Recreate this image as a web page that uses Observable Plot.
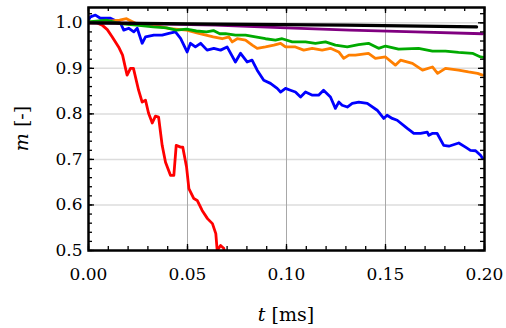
<!DOCTYPE html>
<html><head><meta charset="utf-8">
<script src="https://cdn.jsdelivr.net/npm/d3@7"></script>
<script src="https://cdn.jsdelivr.net/npm/@observablehq/plot@0.6"></script>
<style>body{margin:0;background:#fff}</style>
</head><body><div id="chart"></div>
<script>
// tick values and labels
const xTicks = [0, 0.05, 0.10, 0.15, 0.20];
const xTickLabels = ["0.00", "0.05", "0.10", "0.15", "0.20"];
const yTicks = [0.5, 0.6, 0.7, 0.8, 0.9, 1.0];
const yTickLabels = ["0.5", "0.6", "0.7", "0.8", "0.9", "1.0"];
const xGrid = [0.05, 0.10, 0.15];
const yGrid = [0.6, 0.7, 0.8, 0.9, 1.0];
const xMinor = d3.range(21).map(i => i / 100);
const yMinor = d3.range(27).map(i => 0.5 + i * 0.02);

// series [t (ms), m (-)]
const red = [[0,1.0],[0.004,1.0],[0.0069,0.995],[0.0095,0.985],[0.012,0.969],[0.0152,0.947],[0.0172,0.929],[0.0187,0.900],[0.0195,0.885],[0.0212,0.900],[0.0227,0.900],[0.0253,0.852],[0.0271,0.826],[0.0288,0.830],[0.0303,0.802],[0.0322,0.780],[0.0338,0.795],[0.0354,0.793],[0.0372,0.731],[0.0389,0.694],[0.0414,0.665],[0.0431,0.665],[0.0443,0.731],[0.0465,0.727],[0.0476,0.727],[0.0495,0.684],[0.0507,0.636],[0.0532,0.614],[0.0549,0.610],[0.0574,0.588],[0.0601,0.570],[0.0626,0.559],[0.0643,0.537],[0.0650,0.500],[0.0667,0.511],[0.0683,0.505],[0.0690,0.490]];
const blue = [[0,1.006],[0.001,1.013],[0.0035,1.017],[0.006,1.010],[0.0111,1.010],[0.0162,0.999],[0.0178,0.984],[0.0204,0.988],[0.0229,0.980],[0.0246,0.988],[0.0271,0.955],[0.0288,0.969],[0.033,0.973],[0.0372,0.973],[0.0406,0.977],[0.0439,0.980],[0.0465,0.966],[0.0498,0.936],[0.0515,0.955],[0.054,0.947],[0.0566,0.955],[0.0599,0.940],[0.0633,0.944],[0.0667,0.940],[0.07,0.947],[0.0742,0.914],[0.0768,0.933],[0.0801,0.914],[0.0826,0.918],[0.0852,0.896],[0.0885,0.874],[0.0919,0.867],[0.0953,0.856],[0.097,0.848],[0.0995,0.856],[0.102,0.852],[0.1045,0.848],[0.1071,0.837],[0.1096,0.848],[0.1131,0.841],[0.1162,0.841],[0.1187,0.852],[0.1222,0.837],[0.1247,0.812],[0.1264,0.826],[0.1281,0.819],[0.1307,0.815],[0.1332,0.823],[0.1365,0.826],[0.1408,0.823],[0.1458,0.808],[0.1491,0.790],[0.1508,0.797],[0.1534,0.790],[0.1559,0.786],[0.161,0.768],[0.1643,0.757],[0.1677,0.757],[0.1711,0.760],[0.1719,0.753],[0.1736,0.757],[0.1761,0.757],[0.1794,0.731],[0.182,0.729],[0.187,0.736],[0.1904,0.727],[0.1929,0.720],[0.1955,0.719],[0.198,0.709],[0.1991,0.702]];
const orange = [[0,1.002],[0.006,1.002],[0.0157,1.006],[0.0192,1.009],[0.0242,0.998],[0.0327,0.995],[0.0411,0.987],[0.0495,0.984],[0.0562,0.976],[0.063,0.969],[0.0675,0.965],[0.0709,0.969],[0.0726,0.958],[0.0751,0.965],[0.0793,0.962],[0.0827,0.951],[0.0852,0.944],[0.0894,0.947],[0.0936,0.951],[0.097,0.955],[0.0995,0.947],[0.1045,0.947],[0.1087,0.940],[0.113,0.944],[0.118,0.940],[0.1222,0.944],[0.1264,0.936],[0.1289,0.922],[0.1315,0.929],[0.1348,0.929],[0.1414,0.933],[0.1449,0.922],[0.15,0.925],[0.155,0.907],[0.1576,0.918],[0.1636,0.911],[0.1687,0.896],[0.1737,0.903],[0.1763,0.889],[0.1803,0.900],[0.1869,0.896],[0.1919,0.892],[0.1965,0.889],[0.199,0.885]];
const green = [[0,1.002],[0.0091,1.006],[0.0157,0.998],[0.0242,0.995],[0.0327,0.991],[0.0394,0.989],[0.0444,0.984],[0.0495,0.986],[0.0545,0.982],[0.0596,0.980],[0.0631,0.983],[0.0663,0.976],[0.0692,0.976],[0.0742,0.973],[0.0793,0.973],[0.0843,0.969],[0.0894,0.965],[0.0944,0.962],[0.0978,0.965],[0.1029,0.958],[0.1096,0.958],[0.1146,0.955],[0.1197,0.958],[0.1247,0.951],[0.1307,0.947],[0.1364,0.952],[0.1414,0.955],[0.1465,0.944],[0.15,0.949],[0.1566,0.942],[0.1667,0.944],[0.1737,0.938],[0.1803,0.938],[0.1869,0.935],[0.1939,0.933],[0.198,0.925],[0.1995,0.924]];
const purple = [[0,1.0],[0.02,0.999],[0.064,0.995],[0.10,0.989],[0.132,0.984],[0.165,0.980],[0.199,0.976]];
const black = [[0,1.0],[0.065,0.997],[0.13,0.995],[0.196,0.991]];

const series = [
  {data: red, color: "#ff0000", width: 2.8},
  {data: blue, color: "#0000ff", width: 2.8},
  {data: orange, color: "#ff7f00", width: 2.8},
  {data: green, color: "#00aa00", width: 2.8},
  {data: purple, color: "#800080", width: 2.8},
  {data: black, color: "#000000", width: 3.2}
];

const W = 506, H = 328, mL = 88, mR = 22, mT = 7, mB = 78;
const innerW = W - mL - mR, innerH = H - mT - mB;
const font = "DejaVu Serif";
const tk = (len) => ({stroke: "#000", strokeWidth: 1.3});
const plot = Plot.plot({
  width: W, height: H,
  marginLeft: mL, marginRight: mR, marginTop: mT, marginBottom: mB,
  style: {fontFamily: font, fontSize: "17px", background: "#fff", color: "#000"},
  x: {domain: [0, 0.2], label: null},
  y: {domain: [0.5, 1.0336], label: null},
  marks: [
    Plot.gridY(yGrid, {stroke: "#dcdcdc", strokeOpacity: 1, strokeWidth: 1.5}),
    Plot.gridX(xGrid, {stroke: "#a8a8a8", strokeOpacity: 1, strokeWidth: 1}),
    ...series.map(s => Plot.line(s.data, {x: d => d[0], y: d => d[1], stroke: s.color, strokeWidth: s.width, clip: true})),
    // inward ticks on all four sides
    Plot.tickX(xMinor, {x: d => d, insetTop: innerH - 4, ...tk()}),
    Plot.tickX(xMinor, {x: d => d, insetBottom: innerH - 4, ...tk()}),
    Plot.tickX(xTicks, {x: d => d, insetTop: innerH - 6, ...tk()}),
    Plot.tickX(xTicks, {x: d => d, insetBottom: innerH - 6, ...tk()}),
    Plot.tickY(yMinor, {y: d => d, insetRight: innerW - 4, ...tk()}),
    Plot.tickY(yMinor, {y: d => d, insetLeft: innerW - 4, ...tk()}),
    Plot.tickY(yTicks, {y: d => d, insetRight: innerW - 6, ...tk()}),
    Plot.tickY(yTicks, {y: d => d, insetLeft: innerW - 6, ...tk()}),
    Plot.axisX(xTicks, {anchor: "bottom", tickSize: 0, tickPadding: 17, fontSize: 17, label: null,
      tickFormat: d => xTickLabels[xTicks.indexOf(d)]}),
    Plot.axisY(yTicks, {anchor: "left", tickSize: 0, tickPadding: 6, fontSize: 17, label: null,
      tickFormat: d => yTickLabels[yTicks.indexOf(d)]}),
    Plot.frame({stroke: "#000", strokeWidth: 2.5})
  ]
});
document.getElementById("chart").appendChild(plot);

const xr = plot.scale("x").range, yr = plot.scale("y").range;
const svg = d3.select(plot);
const xl = svg.append("text")
  .attr("x", (xr[0] + xr[1]) / 2).attr("y", 321)
  .attr("text-anchor", "middle")
  .style("font-family", font).style("font-size", "19px").attr("fill", "#000");
xl.append("tspan").style("font-style", "italic").text("t");
xl.append("tspan").text(" [ms]");
const yl = svg.append("text")
  .attr("transform", `translate(28,${(yr[0] + yr[1]) / 2}) rotate(-90)`)
  .attr("text-anchor", "middle")
  .style("font-family", font).style("font-size", "19px").attr("fill", "#000");
yl.append("tspan").style("font-style", "italic").text("m");
yl.append("tspan").text(" [-]");
</script>
</body></html>
